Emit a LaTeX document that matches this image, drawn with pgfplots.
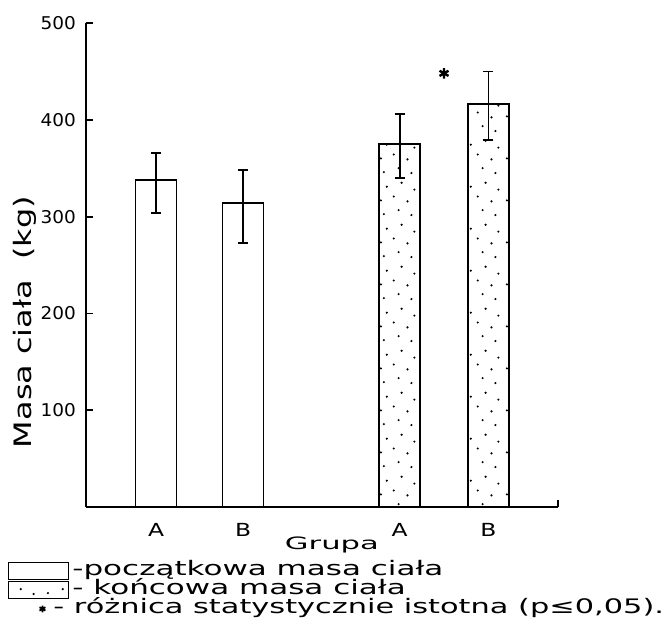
\documentclass[border=0pt]{standalone}
\usepackage{fontspec}
\setmainfont{DejaVu Sans}[FakeStretch=1.05]
\newfontfamily\legendfont{DejaVu Sans}[FakeStretch=1.55]
\newfontfamily\legendfontb{DejaVu Sans}[FakeStretch=1.52]
\newfontfamily\ylabfont{DejaVu Sans}[FakeStretch=1.33]
\newfontfamily\xlabfont{DejaVu Sans}[FakeStretch=1.8]
\newfontfamily\xtickfont{DejaVu Sans}[FakeStretch=1.3]
\usepackage{pgfplots}
\pgfplotsset{compat=1.18}
\usepackage{pgfplotstable}
\usetikzlibrary{patterns}
\pgfdeclarepatternformonly{sparsedots}{\pgfqpoint{0pt}{0pt}}{\pgfqpoint{21pt}{21pt}}{\pgfqpoint{21pt}{21pt}}{%
  \pgfpathcircle{\pgfqpoint{3pt}{2pt}}{0.6pt}
  \pgfpathcircle{\pgfqpoint{10.5pt}{4pt}}{0.6pt}
  \pgfpathcircle{\pgfqpoint{17pt}{1.5pt}}{0.6pt}
  \pgfpathcircle{\pgfqpoint{1.5pt}{9pt}}{0.6pt}
  \pgfpathcircle{\pgfqpoint{8pt}{11pt}}{0.6pt}
  \pgfpathcircle{\pgfqpoint{15pt}{8.5pt}}{0.6pt}
  \pgfpathcircle{\pgfqpoint{4.5pt}{16pt}}{0.6pt}
  \pgfpathcircle{\pgfqpoint{12pt}{18pt}}{0.6pt}
  \pgfpathcircle{\pgfqpoint{18.5pt}{14.5pt}}{0.6pt}
  \pgfusepath{fill}}

\pgfplotstableread{
x y ep em
1 338 28 34
2 314 34 41
}\initialtab
\pgfplotstableread{
x y ep em
3.8 375 31 35
4.82 416 34 37
}\finaltab

\begin{document}
\begin{tikzpicture}
\path[use as bounding box] (-43pt,-65.5pt) rectangle (292pt,253.5pt);
\begin{axis}[
  at={(0pt,0pt)}, anchor=south west,
  scale only axis, width=236pt, height=242pt,
  xmin=0.195, xmax=5.62, ymin=0, ymax=500,
  axis x line*=bottom, axis y line*=left,
  axis line style={line width=0.9pt, -},
  ytick={100,200,300,400,500},
  xtick={1,2,3.8,4.82}, xticklabels={A,B,A,B},
  major x tick style={draw=none},
  extra x ticks={5.62}, extra x tick labels={},
  extra x tick style={tick align=inside, major x tick style={draw=black, line width=0.9pt}},
  tick align=inside, major tick length=3.5pt,
  major y tick style={line width=0.9pt, black},
  /pgf/number format/assume math mode=true,
  yticklabel style={font=\fontsize{8.8}{10}\selectfont, xshift=-1.5pt},
  xticklabel style={font=\xtickfont\fontsize{9}{10}\selectfont, yshift=-1pt},
  xlabel={Grupa},
  xlabel style={at={(axis description cs:0.521,-0.0785)}, anchor=center, font=\xlabfont\fontsize{8.5}{10}\selectfont},
  ylabel={Masa ciała \ (kg)},
  ylabel style={at={(axis description cs:-0.13,0.382)}, anchor=center, font=\ylabfont\fontsize{12}{14}\selectfont},
  ybar, bar width=20.5pt, bar shift=0pt,
  clip=false,
  legend style={draw=none, fill=none, at={(axis description cs:-0.167,-0.1116)}, anchor=north west,
    inner sep=0pt, row sep=0pt, column sep=1pt,
    font=\legendfont\fontsize{10}{11}\selectfont,
    nodes={inner sep=0.5pt, text height=6.5pt, text depth=2pt}},
  legend cell align=left,
]
\addplot[draw=black, fill=white, line width=0.9pt,
  legend image code/.code={\draw[black, line width=0.9pt, fill=white] (0pt,-4.25pt) rectangle (30pt,4.25pt);},
  error bars/.cd, y dir=both, y explicit,
  error bar style={line width=0.9pt, black},
  error mark options={rotate=90, mark size=2.5pt, line width=0.9pt, black}]
  table[x=x, y=y, y error plus=ep, y error minus=em] {\initialtab};
\addlegendentry{-początkowa masa ciała}
\addplot[draw=black, pattern=sparsedots, pattern color=black, line width=0.9pt,
  legend image code/.code={\draw[black, line width=0.9pt, pattern=sparsedots, pattern color=black] (0pt,-4.25pt) rectangle (30pt,4.25pt);},
  error bars/.cd, y dir=both, y explicit,
  error bar style={line width=0.9pt, black},
  error mark options={rotate=90, mark size=2.5pt, line width=0.9pt, black}]
  table[x=x, y=y, y error plus=ep, y error minus=em] {\finaltab};
\addlegendentry{- końcowa masa ciała}
\addplot[only marks, mark=asterisk, mark size=2.6pt, line width=1.2pt, black,
  legend image code/.code={\path[draw=none, fill=none] (0pt,-4.25pt) rectangle (30pt,4.25pt);
    \draw[black, line width=0.9pt] plot[mark=asterisk, mark size=1.7pt] coordinates {(17pt,0pt)};}]
  coordinates {(4.31,448)};
\addlegendentry{\hspace*{-9.5pt}{\legendfontb- różnica statystycznie istotna (p≤0,05).}}
\end{axis}
\end{tikzpicture}
\end{document}
